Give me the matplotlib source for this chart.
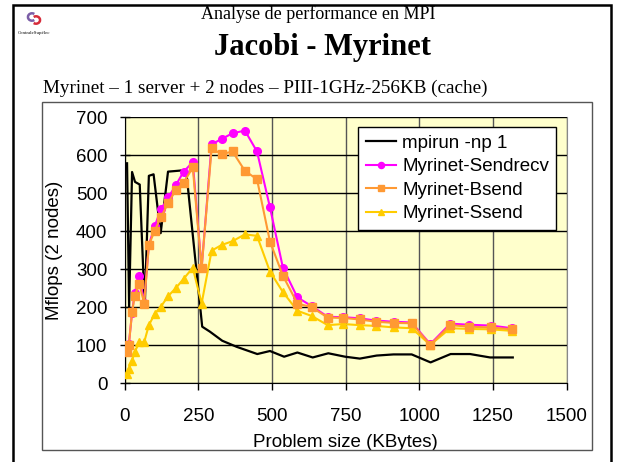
import numpy as np
import matplotlib
matplotlib.use('Agg')
import matplotlib.pyplot as plt
from matplotlib.patches import Rectangle, Arc

# données
x_mpi = [8, 15, 25, 35, 51, 68, 82, 98, 122, 147, 192, 209, 263, 289, 331, 380,
         450, 493, 541, 586, 638, 691, 748, 798, 855, 912, 974, 1038, 1106, 1172,
         1240, 1317]
y_mpi = [579, 200, 556, 530, 523, 200, 546, 550, 395, 557, 560, 557, 149, 136, 112, 96,
         77, 85, 70, 81, 68, 79, 70, 65, 73, 76, 76, 55, 77, 77, 68, 68]

x_myr = [8, 14, 25, 34, 50, 66, 82, 102, 123, 148, 174, 200, 231, 261, 295, 329, 366,
         408, 449, 493, 537, 586, 635, 689, 742, 797, 853, 914, 974, 1037, 1105, 1170,
         1242, 1314]
y_sendrecv = [88, 103, 186, 238, 283, 212, 364, 414, 458, 489, 522, 557, 582, 303, 629,
              643, 658, 665, 610, 463, 304, 226, 203, 175, 174, 171, 165, 162, 160, 103,
              157, 154, 152, 145]
y_bsend = [83, 101, 187, 231, 261, 210, 364, 402, 437, 475, 509, 528, 568, 303, 618,
           603, 610, 559, 537, 373, 283, 210, 200, 173, 172, 168, 162, 159, 158, 101,
           153, 149, 147, 142]
y_ssend = [24, 38, 60, 83, 108, 108, 153, 183, 202, 230, 251, 275, 304, 210, 349, 364,
           374, 392, 388, 294, 240, 191, 177, 153, 156, 153, 151, 147, 145, 101, 145,
           143, 142, 138]

labels = ['mpirun -np 1', 'Myrinet-Sendrecv', 'Myrinet-Bsend', 'Myrinet-Ssend']

W, H = 622, 462
fig = plt.figure(figsize=(W / 100, H / 100), dpi=100, facecolor='white')

def fx(px):
    return px / W

def fy(py):
    return 1 - py / H

# cadre de la diapo
fig.patches.append(Rectangle((fx(13), fy(470)), fx(611) - fx(13), fy(5) - fy(470),
                             transform=fig.transFigure, fill=False, ec='black', lw=1.8))
# cadre du graphique
fig.patches.append(Rectangle((fx(42), fy(450)), fx(592) - fx(42), fy(102) - fy(450),
                             transform=fig.transFigure, fill=False, ec='#555555', lw=1.0))

# petit logo
fig.patches.append(Arc((fx(32), fy(17)), 0.013, 0.016, theta1=60, theta2=300,
                       transform=fig.transFigure, color='#7b5ea7', lw=1.8))
fig.patches.append(Arc((fx(36), fy(20)), 0.013, 0.016, theta1=240, theta2=120,
                       transform=fig.transFigure, color='#d62b3a', lw=1.8))
fig.text(fx(34), fy(33), 'CentraleSupélec', fontsize=3.5, family='Liberation Serif',
         ha='center', va='center')

# titres
fig.text(fx(318), fy(14), 'Analyse de performance en MPI', fontsize=13,
         family='Liberation Serif', ha='center', va='center')
fig.text(fx(323), fy(47), 'Jacobi - Myrinet', fontsize=22, fontweight='bold',
         family='Liberation Serif', ha='center', va='center')
fig.text(fx(43), fy(88), 'Myrinet – 1 server + 2 nodes – PIII-1GHz-256KB (cache)',
         fontsize=13.8, family='Liberation Serif', ha='left', va='center')

ax = fig.add_axes([fx(124.7), fy(383.3), fx(566.7) - fx(124.7), fy(117.3) - fy(383.3)])
ax.set_facecolor('#FFFFCC')
ax.set_xlim(0, 1500)
ax.set_ylim(0, 700)
ax.set_xticks(np.arange(0, 1501, 250))
ax.set_yticks(np.arange(0, 701, 100))

# grille
ax.grid(True, axis='y', color='black', lw=1.0, zorder=0)
ax.grid(True, axis='x', color='#555555', lw=1.0, zorder=0)
ax.set_axisbelow(True)

ax.spines['top'].set_visible(False)
ax.spines['right'].set_color('#888888')
ax.spines['left'].set_color('black')
ax.spines['bottom'].set_color('black')

ax.tick_params(axis='y', direction='inout', length=7, width=1, pad=9, labelsize=13.5)
ax.tick_params(axis='x', direction='out', length=5, width=1, pad=13, labelsize=13.5)
for lab in ax.get_xticklabels() + ax.get_yticklabels():
    lab.set_family('Liberation Sans')

# courbes
ax.plot(x_mpi, y_mpi, color='black', lw=1.6, label=labels[0], zorder=3)
ax.plot(x_myr, y_sendrecv, color='#FF00FF', lw=1.5, marker='o', ms=5.5,
        label=labels[1], zorder=4)
ax.plot(x_myr, y_bsend, color='#FF9933', lw=1.5, marker='s', ms=5.5,
        label=labels[2], zorder=5)
ax.plot(x_myr, y_ssend, color='#FFCC00', lw=1.5, marker='^', ms=6,
        label=labels[3], zorder=4)

ax.set_xlabel('Problem size (KBytes)', family='Liberation Sans', fontsize=13.5, labelpad=6)
ax.set_ylabel('Mflops (2 nodes)', family='Liberation Sans', fontsize=13.5, labelpad=9)

leg = ax.legend(loc='upper right', bbox_to_anchor=(0.998, 0.998), fancybox=False,
                edgecolor='black', facecolor='white', framealpha=1,
                prop={'family': 'Liberation Sans', 'size': 13.5},
                handlelength=1.6, handletextpad=0.35, labelspacing=0.34,
                borderpad=0.4, borderaxespad=0.5, markerscale=0.8)
leg.get_frame().set_linewidth(1.0)

fig.savefig('out.png', dpi=100, facecolor='white')
